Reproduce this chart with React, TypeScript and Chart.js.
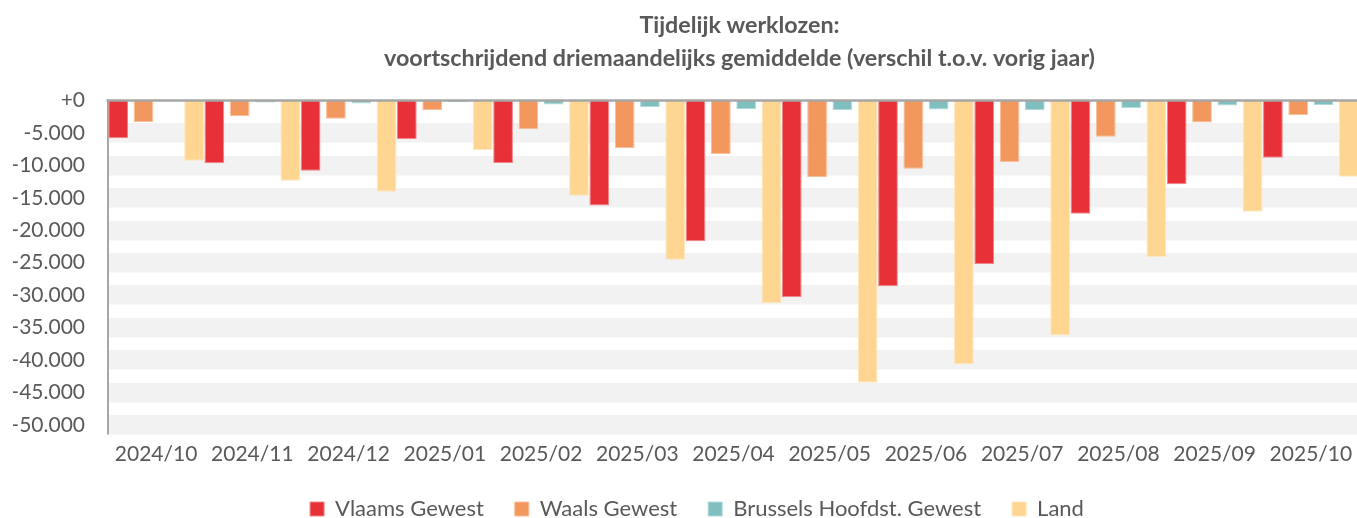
import React, { useEffect, useRef } from "react";
import { Chart, registerables } from "chart.js";

Chart.register(...registerables);

const categories = [
  "2024/10", "2024/11", "2024/12", "2025/01", "2025/02", "2025/03", "2025/04",
  "2025/05", "2025/06", "2025/07", "2025/08", "2025/09", "2025/10",
];

const vlaams = [-5825, -9690, -10830, -5930, -9640, -16180, -21690, -30300, -28650, -25200, -17480, -12930, -8820];
const waals = [-3350, -2380, -2800, -1450, -4430, -7370, -8250, -11850, -10520, -9490, -5580, -3410, -2220];
const brussels = [-30, -300, -480, -260, -630, -990, -1300, -1450, -1400, -1500, -1140, -790, -680];
const land = [-9290, -12380, -14080, -7630, -14690, -24550, -31230, -43530, -40650, -36220, -24120, -17170, -11760];

const seriesNames = ["Vlaams Gewest", "Waals Gewest", "Brussels Hoofdst. Gewest", "Land"];
const titleLines = ["Tijdelijk werklozen:", "voortschrijdend driemaandelijks gemiddelde (verschil t.o.v. vorig jaar)"];

const yMin = -50000;
const yMax = 0;
const yStep = 5000;

const FONT = "Lato";
const TEXT = "#595959";

function formatTick(v: number): string {
  if (v === 0) return "+0";
  const abs = Math.abs(v);
  const s = String(abs).replace(/\B(?=(\d{3})+(?!\d))/g, ".");
  return (v < 0 ? "-" : "+") + s;
}

const zeroLinePlugin = {
  id: "zeroLine",
  afterDatasetsDraw(chart: any) {
    const { ctx, chartArea, scales } = chart;
    const y = scales.y.getPixelForValue(0);
    ctx.save();
    ctx.strokeStyle = "#a6a6a6";
    ctx.lineWidth = 2.5;
    ctx.beginPath();
    ctx.moveTo(chartArea.left - 1.5, y);
    ctx.lineTo(chartArea.right, y);
    ctx.stroke();
    ctx.restore();
  },
};

const shiftBoxesPlugin = {
  id: "shiftBoxes",
  afterLayout(chart: any) {
    const t = chart.titleBlock;
    if (t) {
      t.left += 6;
      t.right += 6;
    }
    const l = chart.legend;
    if (l) {
      l.left += 11;
      l.right += 11;
    }
  },
};

export default function App() {
  const canvasRef = useRef<HTMLCanvasElement | null>(null);

  useEffect(() => {
    document.body.style.margin = "0";
    document.body.style.overflow = "hidden";
    const canvas = canvasRef.current;
    if (!canvas) return;
    const colors = ["#E83037", "#F2975E", "#7FBFBF", "#FFD691"];
    const borders = ["#F0868A", "#F8BE98", "#B3DADA", "#FFE6BC"];
    const values = [vlaams, waals, brussels, land];
    const chart = new Chart(canvas, {
      type: "bar",
      data: {
        labels: categories,
        datasets: values.map((d, i) => ({
          label: seriesNames[i],
          data: d,
          backgroundColor: colors[i],
          borderColor: borders[i],
          borderWidth: 1,
          categoryPercentage: 1.052,
          barPercentage: 0.78,
        })),
      },
      plugins: [zeroLinePlugin, shiftBoxesPlugin],
      options: {
        animation: false,
        responsive: true,
        maintainAspectRatio: false,
        layout: { autoPadding: false, padding: { left: 13, right: 1, top: 0, bottom: 0 } },
        font: { family: FONT },
        plugins: {
          title: {
            display: true,
            text: titleLines,
            color: TEXT,
            fullSize: false,
            font: { family: FONT, size: 23.3, weight: "bold", lineHeight: 1.416 },
            padding: { top: 8.5, bottom: 26 },
          },
          legend: {
            display: true,
            position: "bottom",
            labels: {
              color: TEXT,
              font: { family: FONT, size: 22 },
              boxWidth: 14,
              boxHeight: 14,
              padding: 31,
            },
          },
          tooltip: { enabled: false },
        },
        scales: {
          x: {
            grid: { display: false, drawTicks: false },
            border: { display: false },
            ticks: {
              color: TEXT,
              font: { family: FONT, size: 21 },
              padding: 17,
              autoSkip: false,
              maxRotation: 0,
            },
            afterFit: (scale: any) => {
              scale.height = scale.height - 17;
              scale.paddingLeft = 0;
              scale.paddingRight = 0;
            },
          },
          y: {
            min: yMin,
            max: yMax,
            border: { display: true, color: "#a6a6a6", width: 2 },
            grid: {
              drawTicks: false,
              color: (c: any) => (c.tick && c.tick.value === 0 ? "rgba(0,0,0,0)" : "#f2f2f2"),
              lineWidth: (c: any) => (c.tick && c.tick.value === 0 ? 0 : 19.4),
            },
            ticks: {
              stepSize: yStep,
              color: TEXT,
              font: { family: FONT, size: 21 },
              padding: 23,
              callback: (v: any) => formatTick(Number(v)),
            },
            afterFit: (scale: any) => {
              scale.width = 95;
            },
          },
        },
      },
    });
    return () => chart.destroy();
  }, []);

  return (
    <div style={{ position: "relative", width: "1360px", height: "530px" }}>
      <canvas ref={canvasRef} />
    </div>
  );
}
